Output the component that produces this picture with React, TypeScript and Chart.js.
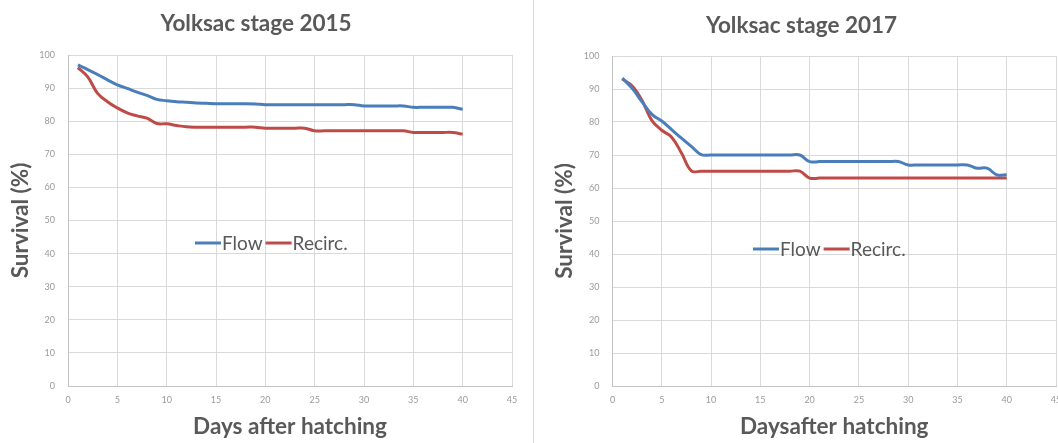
import React, { useEffect, useRef } from "react";
import { Chart, registerables } from "chart.js";

Chart.register(...registerables);

// ---------- data ----------
const days = [
  1, 2, 3, 4, 5, 6, 7, 8, 9, 10, 11, 12, 13, 14, 15, 16, 17, 18, 19, 20,
  21, 22, 23, 24, 25, 26, 27, 28, 29, 30, 31, 32, 33, 34, 35, 36, 37, 38, 39, 40,
];

const flow2015 = [
  97.0, 95.6, 94.1, 92.5, 91.0, 89.9, 88.8, 87.8, 86.6, 86.2,
  85.9, 85.7, 85.5, 85.4, 85.3, 85.3, 85.3, 85.3, 85.2, 85.0,
  85.0, 85.0, 85.0, 85.0, 85.0, 85.0, 85.0, 85.0, 85.0, 84.6,
  84.6, 84.6, 84.6, 84.6, 84.2, 84.2, 84.2, 84.2, 84.2, 83.6,
];

const recirc2015 = [
  96.2, 93.4, 88.4, 85.9, 84.0, 82.5, 81.6, 80.9, 79.3, 79.2,
  78.7, 78.3, 78.2, 78.2, 78.2, 78.2, 78.2, 78.2, 78.2, 77.9,
  77.9, 77.9, 77.9, 77.9, 77.1, 77.1, 77.1, 77.1, 77.1, 77.1,
  77.1, 77.1, 77.1, 77.1, 76.6, 76.6, 76.6, 76.6, 76.6, 76.1,
];

const flow2017 = [
  93.3, 90.2, 86.1, 82.3, 80.3, 77.7, 75.1, 72.6, 70.1, 70.0,
  70.0, 70.0, 70.0, 70.0, 70.0, 70.0, 70.0, 70.0, 70.0, 68.0,
  68.0, 68.0, 68.0, 68.0, 68.0, 68.0, 68.0, 68.0, 68.0, 67.0,
  67.0, 67.0, 67.0, 67.0, 67.0, 67.0, 66.0, 66.0, 64.0, 64.0,
];

const recirc2017 = [
  93.0, 90.9, 86.5, 80.4, 77.5, 75.4, 70.6, 65.2, 65.1, 65.1,
  65.1, 65.1, 65.1, 65.1, 65.1, 65.1, 65.1, 65.1, 65.1, 63.0,
  63.0, 63.0, 63.0, 63.0, 63.0, 63.0, 63.0, 63.0, 63.0, 63.0,
  63.0, 63.0, 63.0, 63.0, 63.0, 63.0, 63.0, 63.0, 63.0, 63.0,
];

const seriesNames = ["Flow", "Recirc."];
const chartTitles = ["Yolksac stage 2015", "Yolksac stage 2017"];
const xAxisTitles = ["Days after hatching", "Daysafter hatching"];
const yAxisTitle = "Survival (%)";
const xRange = [0, 45, 5];
const yRange = [0, 100, 10];

// ---------- styles ----------
const FONT = "Lato, 'Open Sans', sans-serif";
const TEXT = "#595959";
const TICK = "#9a9a9a";
const GRID = "#d9d9d9";
const BLUE = "#4a7ebb";
const RED = "#be4b48";
const BOLD_SIZE = 22.5;

const insideLegend = {
  id: "insideLegend",
  afterDatasetsDraw(chart: any, _args: any, opts: any) {
    const ctx = chart.ctx;
    ctx.save();
    ctx.font = `${opts.size}px ${FONT}`;
    ctx.textBaseline = "middle";
    let x = opts.x;
    const y = opts.y;
    chart.data.datasets.forEach((ds: any) => {
      ctx.strokeStyle = ds.borderColor;
      ctx.lineWidth = 3;
      ctx.beginPath();
      ctx.moveTo(x, y);
      ctx.lineTo(x + 26, y);
      ctx.stroke();
      x += 27;
      ctx.fillStyle = TEXT;
      ctx.fillText(ds.label, x, y + 1);
      x += ctx.measureText(ds.label).width + 3;
    });
    ctx.restore();
  },
};

type PanelProps = {
  left: number;
  width: number;
  idx: number;
  flow: number[];
  recirc: number[];
  yAxisWidth: number;
  yTitlePad: number;
  titlePadTop: number;
  titlePadBottom: number;
  rightPad: number;
  legendX: number;
  legendY: number;
};

function Panel(p: PanelProps) {
  const ref = useRef<HTMLCanvasElement | null>(null);
  useEffect(() => {
    if (!ref.current) return;
    const mk = (vals: number[]) => days.map((d, i) => ({ x: d, y: vals[i] }));
    const chart = new Chart(ref.current, {
      type: "line",
      data: {
        datasets: [
          {
            label: seriesNames[0],
            data: mk(p.flow),
            borderColor: BLUE,
            backgroundColor: BLUE,
            borderWidth: 3,
            pointRadius: 0,
            tension: 0.4,
            fill: false,
          },
          {
            label: seriesNames[1],
            data: mk(p.recirc),
            borderColor: RED,
            backgroundColor: RED,
            borderWidth: 3,
            pointRadius: 0,
            tension: 0.4,
            fill: false,
          },
        ],
      },
      plugins: [insideLegend],
      options: {
        responsive: false,
        animation: false,
        devicePixelRatio: 1,
        layout: { padding: { left: 0, right: p.rightPad, top: 0, bottom: 0 } },
        plugins: {
          legend: { display: false },
          tooltip: { enabled: false },
          title: {
            display: true,
            text: chartTitles[p.idx],
            color: TEXT,
            font: { family: FONT, size: BOLD_SIZE, weight: "bold" },
            padding: { top: p.titlePadTop, bottom: p.titlePadBottom },
          },
          insideLegend: { x: p.legendX, y: p.legendY, size: 19 },
        } as any,
        scales: {
          x: {
            type: "linear",
            min: xRange[0],
            max: xRange[1],
            ticks: {
              stepSize: xRange[2],
              color: TICK,
              padding: 9,
              maxRotation: 0,
              font: { family: FONT, size: 9 },
            },
            grid: { color: GRID, drawTicks: false },
            border: { color: "#c4c4c4" },
            title: {
              display: true,
              text: xAxisTitles[p.idx],
              color: TEXT,
              font: { family: FONT, size: BOLD_SIZE, weight: "bold" },
              padding: { top: 0, bottom: 3 },
            },
            afterFit: (s: any) => {
              s.height = 57;
            },
          },
          y: {
            min: yRange[0],
            max: yRange[1],
            ticks: {
              stepSize: yRange[2],
              color: TICK,
              padding: 13,
              font: { family: FONT, size: 9 },
            },
            grid: { color: GRID, drawTicks: false },
            border: { color: "#c4c4c4" },
            title: {
              display: true,
              text: yAxisTitle,
              color: TEXT,
              font: { family: FONT, size: BOLD_SIZE, weight: "bold" },
              padding: { top: p.yTitlePad, bottom: 0 },
            },
            afterFit: (s: any) => {
              s.width = p.yAxisWidth;
            },
          },
        },
      } as any,
    });
    return () => chart.destroy();
  }, []);
  return (
    <canvas
      ref={ref}
      width={p.width}
      height={443}
      style={{ position: "absolute", left: p.left, top: 0, width: p.width, height: 443 }}
    />
  );
}

export default function App() {
  return (
    <div
      style={{
        position: "absolute",
        left: 0,
        top: 0,
        width: 1058,
        height: 443,
        overflow: "hidden",
        background: "#ffffff",
      }}
    >
      <Panel
        left={0}
        width={530}
        idx={0}
        flow={flow2015}
        recirc={recirc2015}
        yAxisWidth={68}
        yTitlePad={7}
        titlePadTop={10}
        titlePadBottom={18}
        rightPad={18}
        legendX={195}
        legendY={243}
      />
      <div
        style={{
          position: "absolute",
          left: 533,
          top: 0,
          width: 1,
          height: 443,
          background: "#d9d9d9",
        }}
      />
      <Panel
        left={547}
        width={530}
        idx={1}
        flow={flow2017}
        recirc={recirc2017}
        yAxisWidth={65.5}
        yTitlePad={4}
        titlePadTop={12}
        titlePadBottom={17}
        rightPad={21}
        legendX={206}
        legendY={249}
      />
    </div>
  );
}
